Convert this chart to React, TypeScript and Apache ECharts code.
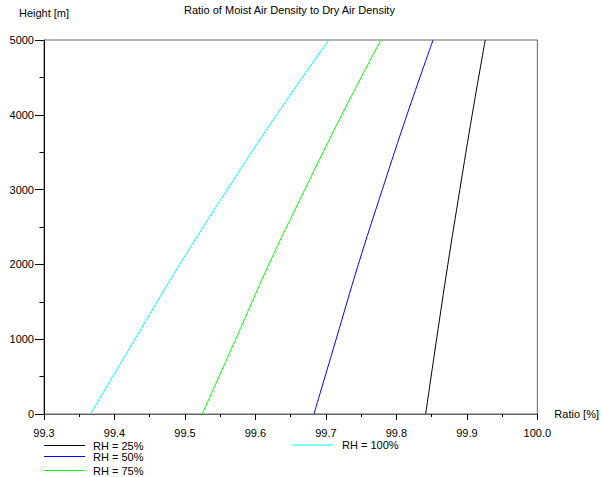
import React, { useEffect, useRef } from "react";
import * as echarts from "echarts";

const heights = [0, 1000, 2000, 3000, 4000, 5000];
const rh25 = [99.8415, 99.857, 99.873, 99.89, 99.9075, 99.926];
const rh50 = [99.683, 99.7145, 99.746, 99.78, 99.815, 99.852];
const rh75 = [99.5245, 99.572, 99.619, 99.67, 99.7225, 99.778];
const rh100 = [99.366, 99.429, 99.4925, 99.56, 99.63, 99.704];
const seriesNames = ["RH = 25%", "RH = 50%", "RH = 75%", "RH = 100%"];
const seriesColors = ["#000000", "#0000ff", "#00ff00", "#00ffff"];

const FONT = "Liberation Sans, Arial, sans-serif";

export default function App() {
  const ref = useRef<HTMLDivElement>(null);
  useEffect(() => {
    if (!ref.current) return;
    const chart = echarts.init(ref.current, null, { renderer: "svg" });
    const allValues = [rh25, rh50, rh75, rh100];
    const series = allValues.map((vals, i) => ({
      name: seriesNames[i],
      type: "line",
      data: vals.map((v, j) => [v, heights[j]]),
      showSymbol: false,
      symbol: "none",
      smooth: 0.4,
      lineStyle: { color: seriesColors[i], width: 1 },
      itemStyle: { color: seriesColors[i] },
      z: 3,
    }));
    const legendCommon = {
      orient: "vertical",
      icon: "rect",
      itemWidth: 41,
      itemHeight: 1,
      itemGap: 0,
      padding: 0,
      height: 40,
      textStyle: {
        fontFamily: FONT,
        fontSize: 11,
        color: "#000",
        lineHeight: 13,
        padding: [0, 0, 0, 3],
      },
    };
    // legend placement: [left, top, itemWidth]
    const legendPos = [
      [44, 439, 41],
      [44, 450, 41],
      [44, 464, 41],
      [292, 438.5, 42],
    ];
    chart.setOption({
      animation: false,
      backgroundColor: "#fff",
      textStyle: { fontFamily: FONT },
      title: {
        text: "Ratio of Moist Air Density to Dry Air Density",
        left: 184,
        top: 4,
        padding: 0,
        textStyle: { fontFamily: FONT, fontSize: 11, fontWeight: "normal", color: "#000" },
      },
      legend: seriesNames.map((n, i) => ({
        ...legendCommon,
        left: legendPos[i][0],
        top: legendPos[i][1],
        itemWidth: legendPos[i][2],
        data: [n],
      })),
      grid: {
        left: 44,
        right: 60,
        top: 40,
        bottom: 63,
        show: true,
        borderColor: "#666",
        borderWidth: 1,
        backgroundColor: "transparent",
      },
      xAxis: {
        type: "value",
        min: 99.3,
        max: 100,
        interval: 0.1,
        name: "Ratio [%]",
        nameLocation: "end",
        nameGap: 17,
        nameTextStyle: { fontFamily: FONT, fontSize: 11, color: "#000" },
        axisLine: { show: true, lineStyle: { color: "#666", width: 1 } },
        axisTick: { show: true, length: 6, lineStyle: { color: "#000" } },
        minorTick: { show: true, splitNumber: 2, length: 3, lineStyle: { color: "#000" } },
        splitLine: { show: false },
        axisLabel: {
          margin: 13,
          fontFamily: FONT,
          fontSize: 11,
          color: "#000",
          formatter: (v: number) => v.toFixed(1),
        },
      },
      yAxis: {
        type: "value",
        min: 0,
        max: 5000,
        interval: 1000,
        name: "Height [m]",
        nameLocation: "end",
        nameGap: 22,
        nameTextStyle: { fontFamily: FONT, fontSize: 11, color: "#000" },
        axisLine: { show: true, lineStyle: { color: "#000", width: 1 } },
        axisTick: { show: true, length: 9, lineStyle: { color: "#000" } },
        minorTick: { show: true, splitNumber: 2, length: 4.5, lineStyle: { color: "#000" } },
        splitLine: { show: false },
        axisLabel: {
          margin: 10,
          fontFamily: FONT,
          fontSize: 11,
          color: "#000",
          formatter: (v: number) => String(v),
        },
      },
      series,
    });
    return () => chart.dispose();
  }, []);
  return (
    <div
      ref={ref}
      style={{ position: "fixed", left: 0, top: 0, width: 602, height: 477, overflow: "hidden" }}
    />
  );
}
